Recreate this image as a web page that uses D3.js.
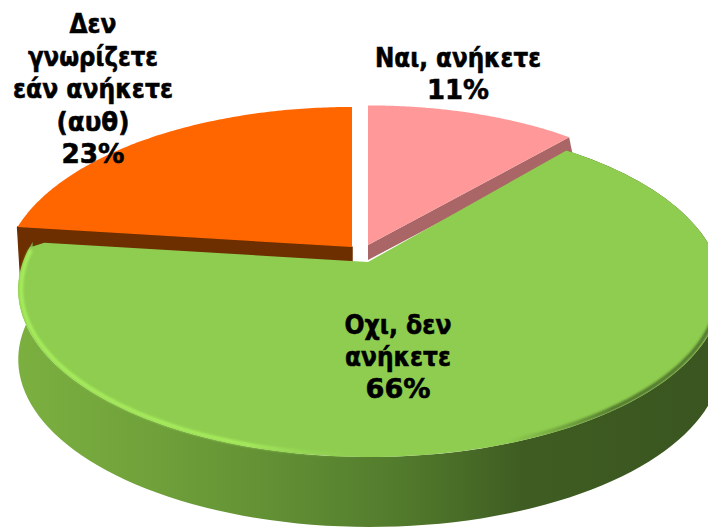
<!DOCTYPE html>
<html><head><meta charset="utf-8"><style>html,body{margin:0;background:#fff}svg{display:block}</style>
<script src="https://cdn.jsdelivr.net/npm/d3@7/dist/d3.min.js"></script></head><body><script>
const categories=["Ναι, ανήκετε","Οχι, δεν ανήκετε","Δεν γνωρίζετε εάν ανήκετε (αυθ)"];
const values=[11,66,23];
const labelLines=[["Ναι, ανήκετε","11%"],["Οχι, δεν","ανήκετε","66%"],["Δεν","γνωρίζετε","εάν ανήκετε","(αυθ)","23%"]];
const lineWidths=[[166,62],[107,106,65],[47,130,160,73,63]];
const topColors=["#ff9999","#8fcd50","#ff6600"];
const cutColors=["#aa6666","#6b9a38","#6d2f00"];
const apexX=[368,370,352],apexY=[245,262,247],radiusX=[318,347,344],wallDepth=[15,70,50];
const perspective=[.01,.164,.164],radiusY=[141,163,163];
const labelX=[458,398,93],labelY=[67,334,33],lineStep=[32,32,32.5];
const W=708,H=527;
const svg=d3.select("body").append("svg").attr("width",W).attr("height",H);
const defs=svg.append("defs");
const wg=defs.append("linearGradient").attr("id","wall").attr("gradientUnits","userSpaceOnUse").attr("x1",18).attr("x2",718).attr("y1",0).attr("y2",0);
[[0,"#7bb040"],[.2,"#6fa03a"],[.4,"#5f8c33"],[.55,"#527a2c"],[.72,"#3f5d22"],[1,"#3a5520"]].forEach(d=>wg.append("stop").attr("offset",d[0]).attr("stop-color",d[1]));
const bg=defs.append("linearGradient").attr("id","bevel").attr("gradientUnits","userSpaceOnUse").attr("x1",18).attr("x2",718).attr("y1",0).attr("y2",0);
[[0,"#a6ec5c",1],[.33,"#a6ec5c",.95],[.5,"#8fcd50",0],[.7,"#3f5d22",0],[.85,"#3f5d22",.75],[1,"#3f5d22",.75]].forEach(d=>bg.append("stop").attr("offset",d[0]).attr("stop-color",d[1]).attr("stop-opacity",d[2]));
defs.append("filter").attr("id","soft").append("feGaussianBlur").attr("stdDeviation",.8);

const pie=d3.pie().sort(null).startAngle(0).endAngle(2*Math.PI);
const arcs=pie(values);
function proj(a,i,r=1,dy=0){
  const X=r*Math.sin(a),Z=r*Math.cos(a),w=1+perspective[i]*Z;
  return [apexX[i]+X/w*radiusX[i], apexY[i]-Z/w*radiusY[i]+dy];
}
const line=d3.line();
function sample(a0,a1,i,dy=0,r=1){
  return d3.range(0,121).map(t=>proj(a0+(a1-a0)*t/120,i,r,dy));
}
function cutWall(i,a){
  const h=wallDepth[i],c=proj(a,i),o=proj(a,i,0);
  return line([o,c,[c[0]+3,c[1]+h],[o[0],o[1]+h]])+"Z";
}
svg.append("path").attr("d",cutWall(0,arcs[0].endAngle)).attr("fill",cutColors[0]);
svg.append("path").attr("d",cutWall(2,arcs[2].startAngle)).attr("fill",cutColors[2]).attr("stroke",cutColors[2]).attr("stroke-width",1.5).attr("stroke-linejoin","round");
[0,2].forEach(i=>{
  svg.append("path").attr("d",line([proj(0,i,0),...sample(arcs[i].startAngle,arcs[i].endAngle,i)])+"Z").attr("fill",topColors[i]);
});
const g0=arcs[1].startAngle,g1=arcs[1].endAngle,apexGreen=[368,262];
svg.append("path").attr("d",line([...sample(g0,g1,1),...sample(g0,g1,1,wallDepth[1]).reverse()])+"Z").attr("fill","url(#wall)");
svg.append("path").attr("d",line([apexGreen,...sample(g0,g1-.035,1),proj(g1,1,.965)])+"Z").attr("fill",topColors[1]);
svg.append("path").attr("d",line(sample(Math.PI/2+.3,g1-.05,1,0,.992))).attr("fill","none").attr("stroke","url(#bevel)").attr("stroke-width",4).attr("filter","url(#soft)");
const text=svg.append("g").attr("font-family","'DejaVu Sans',sans-serif").attr("font-weight",700).attr("font-size",27).attr("text-anchor","middle").attr("fill","#000").attr("stroke","#000").attr("stroke-width",.6);
labelLines.forEach((ls,i)=>{
  ls.forEach((s,j)=>text.append("text").attr("x",labelX[i]).attr("y",labelY[i]+j*lineStep[i]).attr("textLength",lineWidths[i][j]).attr("lengthAdjust","spacingAndGlyphs").text(s));
});
</script></body></html>
